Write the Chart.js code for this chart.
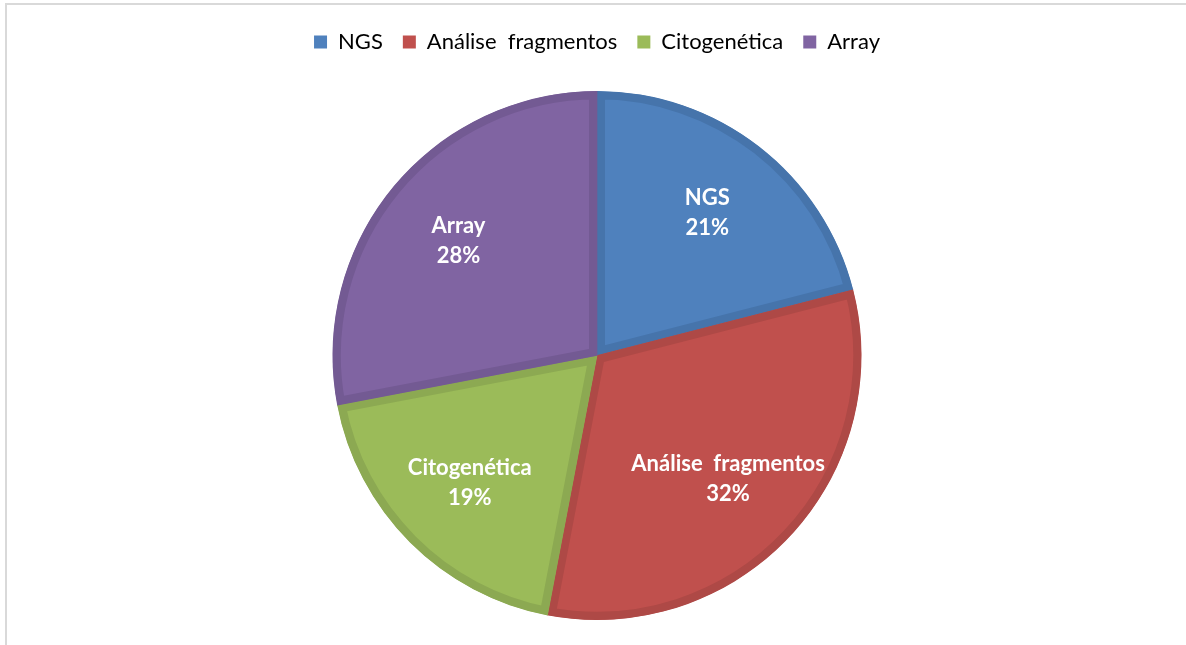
<!DOCTYPE html>
<html>
<head>
<meta charset="utf-8">
<script src="https://cdn.jsdelivr.net/npm/chart.js@4"></script>
<style>
    body { margin: 0; background: #fff; }
    #wrap { position: absolute; left: 0; top: 0; width: 1186px; height: 645px; }
    #frame { position: absolute; left: 5px; top: 3px; right: 0; bottom: 0; border-top: 2px solid #d9d9d9; border-left: 2px solid #d9d9d9; }
</style>
</head>
<body>
<div id="wrap">
    <div id="frame"></div>
    <canvas id="myChart" width="1186" height="645"></canvas>
</div>
<script>
let labels = ["NGS", "Análise  fragmentos", "Citogenética", "Array"];
let values = [21, 32, 19, 28];
let fillColors = ['#4f81bd', '#c0504d', '#9bbb59', '#8064a2'];
let edgeColors = ['#4674ab', '#ae4946', '#8ca952', '#735a93'];

// draws "name / xx%" inside every slice
let sliceLabels = {
    id: 'sliceLabels',
    afterDatasetsDraw(chart) {
        let ctx = chart.ctx;
        let meta = chart.getDatasetMeta(0);
        let total = values.reduce((a, b) => a + b, 0);
        ctx.save();
        ctx.fillStyle = '#ffffff';
        ctx.font = 'bold 22px Lato';
        ctx.textAlign = 'center';
        ctx.textBaseline = 'middle';
        meta.data.forEach((arc, i) => {
            let mid = (arc.startAngle + arc.endAngle) / 2;
            let r = arc.outerRadius * 0.68;
            let x = arc.x + Math.cos(mid) * r;
            let y = arc.y + Math.sin(mid) * r;
            ctx.fillText(labels[i], x, y - 15);
            ctx.fillText(Math.round(values[i] / total * 100) + '%', x, y + 15);
        });
        ctx.restore();
    }
};

// extra room between legend and pie
let legendGap = {
    id: 'legendGap',
    beforeInit(chart) {
        let fit = chart.legend.fit;
        chart.legend.fit = function () {
            fit.bind(chart.legend)();
            this.height += 28;
        };
    }
};

let ctx = document.getElementById('myChart').getContext('2d');

let myChart = new Chart(ctx, {
    type: "pie",
    data: {
        labels: labels,
        datasets: [{
            data: values,
            backgroundColor: fillColors,
            borderColor: edgeColors,
            borderWidth: 8,
            borderAlign: 'inner'
        }]
    },
    options: {
        responsive: false,
        animation: false,
        layout: {
            padding: { left: 8, top: 11, bottom: 25 }
        },
        plugins: {
            legend: {
                position: 'top',
                labels: {
                    boxWidth: 13,
                    boxHeight: 13,
                    padding: 20,
                    color: '#404040',
                    font: { family: 'Lato', size: 22 },
                    generateLabels(chart) {
                        return labels.map((l, i) => ({
                            text: l,
                            fillStyle: fillColors[i],
                            strokeStyle: fillColors[i],
                            lineWidth: 0,
                            index: i
                        }));
                    }
                }
            },
            tooltip: { enabled: false }
        }
    },
    plugins: [sliceLabels, legendGap]
});
</script>
</body>
</html>
